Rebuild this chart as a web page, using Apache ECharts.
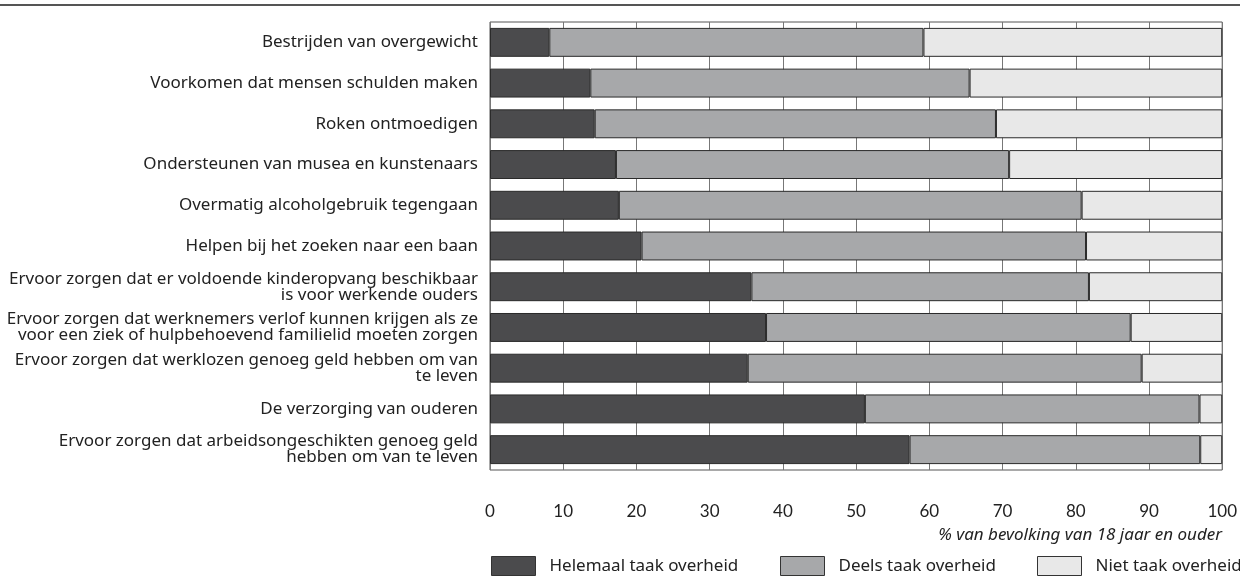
<!DOCTYPE html>
<html>
<head>
<meta charset="utf-8">
<script src="https://cdn.jsdelivr.net/npm/echarts@6/dist/echarts.min.js"></script>
<style>
  html, body { margin: 0; padding: 0; background: #fff; }
  #chart { width: 1240px; height: 581px; }
</style>
</head>
<body>
<div id="chart"></div>
<script>
// categories, top to bottom
const categories = [
  'Bestrijden van overgewicht',
  'Voorkomen dat mensen schulden maken',
  'Roken ontmoedigen',
  'Ondersteunen van musea en kunstenaars',
  'Overmatig alcoholgebruik tegengaan',
  'Helpen bij het zoeken naar een baan',
  'Ervoor zorgen dat er voldoende kinderopvang beschikbaar\nis voor werkende ouders',
  'Ervoor zorgen dat werknemers verlof kunnen krijgen als ze\nvoor een ziek of hulpbehoevend familielid moeten zorgen',
  'Ervoor zorgen dat werklozen genoeg geld hebben om van\nte leven',
  'De verzorging van ouderen',
  'Ervoor zorgen dat arbeidsongeschikten genoeg geld\nhebben om van te leven'
]

const helemaal = [8.1, 13.7, 14.3, 17.2, 17.6, 20.7, 35.7, 37.7, 35.2, 51.2, 57.3]
const deels = [51.1, 51.8, 54.8, 53.7, 63.2, 60.7, 46.1, 49.8, 53.8, 45.7, 39.7]
const niet = [40.8, 34.5, 30.9, 29.1, 19.2, 18.6, 18.2, 12.5, 11.0, 3.1, 3.0]

const seriesNames = ['Helemaal taak overheid', 'Deels taak overheid', 'Niet taak overheid']
const colors = ['#4b4b4d', '#a7a8aa', '#e8e8e8']
const axisName = '% van bevolking van 18 jaar en ouder'

const font = 'Noto Sans'
const chart = echarts.init(document.getElementById('chart'))

function legendAt(name, left) {
  return {
    data: [name],
    left: left,
    top: 551,
    itemWidth: 44,
    itemHeight: 19,
    itemGap: 0,
    icon: 'rect',
    textStyle: { fontFamily: font, fontSize: 17, color: '#222', padding: [4, 0, 0, 9] },
    itemStyle: { borderColor: '#333', borderWidth: 1 }
  }
}

function barSeries(i, data) {
  return {
    name: seriesNames[i],
    type: 'bar',
    stack: 'taak',
    data: data,
    barCategoryGap: '29%',
    itemStyle: { color: colors[i], borderColor: '#2a2a2a', borderWidth: 1 },
    emphasis: { disabled: true },
    animation: false
  }
}

chart.setOption({
  animation: false,
  title: {
    text: axisName,
    right: 13,
    top: 522,
    textStyle: { fontFamily: font, fontSize: 17, fontStyle: 'italic', fontWeight: 'normal', color: '#222' }
  },
  legend: [
    legendAt(seriesNames[0], 486),
    legendAt(seriesNames[1], 775),
    legendAt(seriesNames[2], 1032)
  ],
  graphic: [{
    type: 'line',
    shape: { x1: 0, y1: 5, x2: 1240, y2: 5 },
    style: { stroke: '#555', lineWidth: 2 }
  }],
  grid: {
    left: 490,
    right: 15,
    top: 22,
    bottom: 111,
    show: true,
    borderColor: '#555',
    borderWidth: 1,
    containLabel: false
  },
  xAxis: {
    type: 'value',
    min: 0,
    max: 100,
    interval: 10,
    axisLine: { show: false },
    axisTick: { show: false },
    splitLine: { show: true, lineStyle: { color: '#777', width: 1 } },
    axisLabel: { fontFamily: 'Lato', fontSize: 17, color: '#222', margin: 33 }
  },
  yAxis: {
    type: 'category',
    inverse: true,
    data: categories,
    axisLine: { show: false },
    axisTick: { show: false },
    axisLabel: { fontFamily: font, fontSize: 17, color: '#222', margin: 12, lineHeight: 16, align: 'right' }
  },
  series: [
    barSeries(0, helemaal),
    barSeries(1, deels),
    barSeries(2, niet)
  ]
})
</script>
</body>
</html>
